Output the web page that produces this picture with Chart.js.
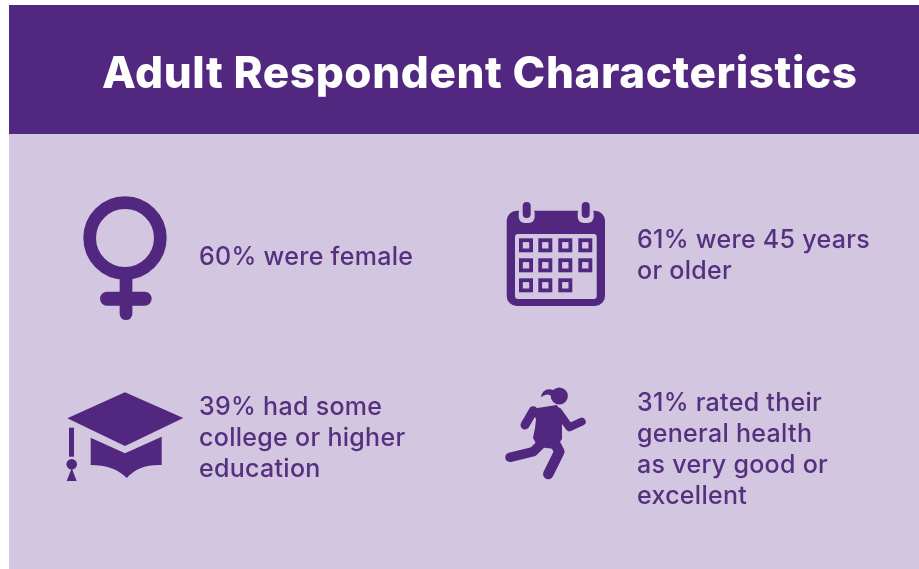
<!DOCTYPE html>
<html lang="en">
<head>
<meta charset="utf-8">
<title>Adult Respondent Characteristics</title>
<script src="https://cdn.jsdelivr.net/npm/chart.js@4"></script>
<style>
    html, body { margin: 0; padding: 0; background: #fff; }
    canvas { display: block; }
</style>
</head>
<body>
<canvas id="respondents" width="919" height="569"></canvas>
<script>
// Chart data
const heading = 'Adult Respondent Characteristics';
const shares = [60, 61, 39, 31];
const captions = [
    ['were female'],
    ['were 45 years', 'or older'],
    ['had some', 'college or higher', 'education'],
    ['rated their', 'general health', 'as very good or', 'excellent']
];
const iconNames = ['female', 'calendar', 'cap', 'runner'];

// Colours
const PURPLE = '#52277f';
const LILAC = '#d3c6e0';
const TEXT_PURPLE = '#54307f';

// Caption placement relative to each point
const captionDx = [74, 87, 74, 87];
const captionDy = [0, -17, -26, -30];
const LINE_HEIGHT = 31;

function line(c, width, pts) {
    c.lineWidth = width;
    c.lineCap = 'round';
    c.lineJoin = 'round';
    c.beginPath();
    pts.forEach((p, i) => i ? c.lineTo(p[0], p[1]) : c.moveTo(p[0], p[1]));
    c.stroke();
}

function poly(c, pts) {
    c.beginPath();
    pts.forEach((p, i) => i ? c.lineTo(p[0], p[1]) : c.moveTo(p[0], p[1]));
    c.closePath();
    c.fill();
}

// Icon glyphs, drawn around (0,0)
const glyphs = {
    female(c) {
        c.lineWidth = 12.7;
        c.beginPath();
        c.arc(0, -19, 35.3, 0, Math.PI * 2);
        c.stroke();
        line(c, 12.7, [[1, 20], [1, 56.7]]);
        line(c, 14, [[-18, 41.7], [19.7, 41.7]]);
    },
    calendar(c) {
        c.beginPath();
        c.roundRect(-43.3, -46.3, 98.3, 95.3, 10);
        c.fill();
        c.fillStyle = LILAC;
        [-23.3, 35.7].forEach(x => {
            c.beginPath();
            c.roundRect(x - 8, -50, 16, 16, 6);
            c.fill();
        });
        c.beginPath();
        c.roundRect(-35, -23, 81.7, 65, 3);
        c.fill();
        c.fillStyle = PURPLE;
        [-23.3, 35.7].forEach(x => {
            c.beginPath();
            c.roundRect(x - 4, -55, 8, 16, 4);
            c.fill();
        });
        // Day squares: 4, 4 and 3 per row
        const cols = [-31, -11.7, 8.3, 28.3];
        const rows = [-18.7, 1.3, 21.3];
        rows.forEach((y, r) => {
            cols.slice(0, r === 2 ? 3 : 4).forEach(x => {
                c.fillStyle = PURPLE;
                c.fillRect(x, y, 14, 14);
                c.fillStyle = LILAC;
                c.fillRect(x + 3.8, y + 3.8, 6.4, 6.4);
            });
        });
    },
    cap(c) {
        poly(c, [[-57.7, -14.7], [0, -40.7], [58.3, -15], [0, 13]]);
        c.beginPath();
        c.moveTo(-34.3, 4.7);
        c.lineTo(0, 20.3);
        c.lineTo(36.7, 3.7);
        c.lineTo(36.7, 32);
        c.quadraticCurveTo(14, 31, 1.7, 45);
        c.quadraticCurveTo(-11, 32, -34.3, 32);
        c.closePath();
        c.fill();
        c.fillRect(-56, -5.3, 5, 29);
        c.beginPath();
        c.arc(-53.3, 31.3, 5.3, 0, Math.PI * 2);
        c.fill();
        poly(c, [[-53.3, 35], [-58.3, 48], [-48.3, 48]]);
    },
    runner(c) {
        c.beginPath();
        c.arc(9.3, -37, 8.6, 0, Math.PI * 2);
        c.fill();
        // Ponytail
        c.beginPath();
        c.moveTo(3.3, -43);
        c.quadraticCurveTo(-6.7, -46.3, -9.3, -35.7);
        c.quadraticCurveTo(-2, -41, 2, -36.3);
        c.closePath();
        c.fill();
        poly(c, [[-19, -24], [6.7, -28], [13, -19.7], [12, -6.3], [12, 6],
            [5, 16], [-12, 14], [-17, 5], [-15, -5], [-14, -14]]);
        line(c, 9, [[-16.7, -22.3], [-25, -8]]);
        line(c, 8, [[8.3, -21.3], [19.3, -5.7], [31.7, -11.3]]);
        line(c, 9.5, [[-8.3, 10.3], [-16.7, 18.7], [-40, 24.3]]);
        line(c, 10.5, [[5, 10.3], [9.3, 18.7], [-1.7, 41]]);
    }
};

function makeIcon(name) {
    const icon = document.createElement('canvas');
    icon.width = 150;
    icon.height = 150;
    const c = icon.getContext('2d');
    c.translate(75, 75);
    c.fillStyle = PURPLE;
    c.strokeStyle = PURPLE;
    glyphs[name](c);
    return icon;
}

const icons = iconNames.map(makeIcon);

// Header band and lilac panel go under the points
const panelPlugin = {
    id: 'panel',
    beforeDraw(chart) {
        const ctx = chart.ctx;
        ctx.save();
        ctx.fillStyle = LILAC;
        ctx.fillRect(9, 134, 910, 435);
        ctx.fillStyle = PURPLE;
        ctx.fillRect(9, 5, 910, 129);
        ctx.restore();
    }
};

// Heading and the caption next to each point
const textPlugin = {
    id: 'captions',
    afterDatasetsDraw(chart) {
        const ctx = chart.ctx;
        const points = chart.getDatasetMeta(0).data;
        ctx.save();
        ctx.textAlign = 'left';
        ctx.textBaseline = 'middle';
        ctx.fillStyle = '#fff';
        ctx.font = '800 44px Inter';
        ctx.letterSpacing = '0.6px';
        ctx.fillText(heading, 102, 75);

        ctx.fillStyle = TEXT_PURPLE;
        ctx.font = '500 25px Inter';
        ctx.letterSpacing = '0.3px';
        points.forEach((pt, i) => {
            const lines = captions[i].slice();
            lines[0] = shares[i] + '% ' + lines[0];
            lines.forEach((text, n) => {
                ctx.fillText(text, pt.x + captionDx[i], pt.y + captionDy[i] + n * LINE_HEIGHT);
            });
        });
        ctx.restore();
    }
};

new Chart(document.getElementById('respondents'), {
    type: 'scatter',
    data: {
        datasets: [{
            label: heading,
            // Two cells per row
            data: shares.map((share, i) => ({ x: i % 2, y: Math.floor(i / 2), share })),
            pointStyle: ctx => icons[ctx.dataIndex],
            clip: false
        }]
    },
    options: {
        responsive: false,
        animation: false,
        layout: { padding: { left: 125, right: 369, top: 257, bottom: 136 } },
        scales: {
            x: { type: 'linear', min: 0, max: 1, display: false },
            y: { type: 'linear', min: 0, max: 1, reverse: true, display: false }
        },
        plugins: {
            legend: { display: false },
            tooltip: { enabled: false }
        }
    },
    plugins: [panelPlugin, textPlugin]
});
</script>
</body>
</html>
